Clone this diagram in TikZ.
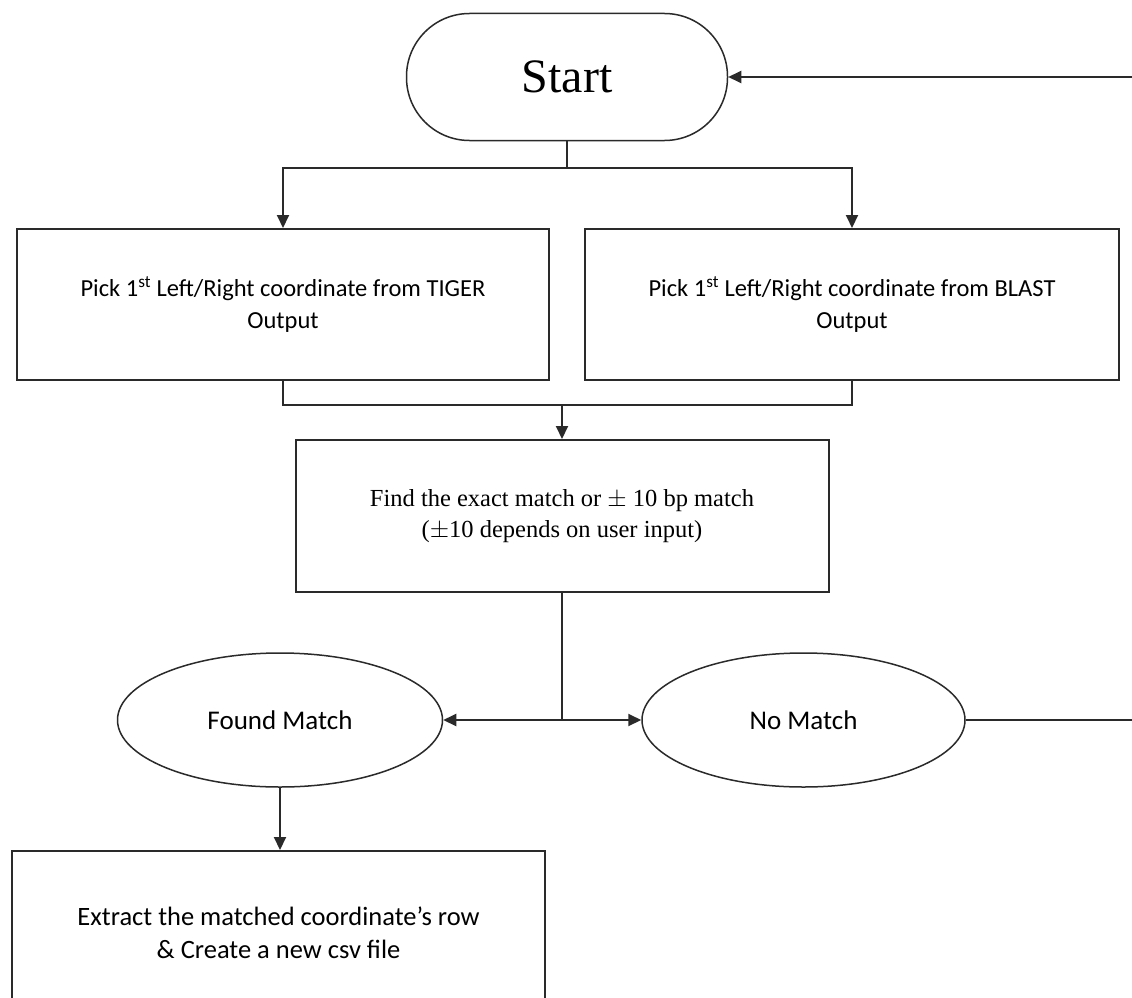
\documentclass[tikz,border=0pt]{standalone}
\usepackage{fontspec}
\setmainfont{Liberation Serif}
\newfontfamily\carl{Carlito}
\usetikzlibrary{arrows.meta,shapes.geometric}
\definecolor{ln}{HTML}{2A2A2A}
\begin{document}
\begin{tikzpicture}[x=1pt,y=-1pt,
  conn/.style={draw=ln, line width=2pt},
  boxstyle/.style={draw=ln, fill=white, inner sep=0pt, align=center, line width=2pt},
  sbox/.style={boxstyle, rectangle, font=\carl\fontsize{24.5}{32}\selectfont},
  ebox/.style={boxstyle, ellipse, line width=1.5pt, font=\carl\fontsize{27}{30}\selectfont},
  arr/.style={conn, -{Triangle[length=13pt,width=12pt]}}]
\useasboundingbox (0,0) rectangle (1132,998);
\fill[white] (0,0) rectangle (1132,998);

\node[boxstyle, rectangle, rounded corners=63pt, line width=1.5pt, minimum width=321pt, minimum height=127pt,
      font=\fontsize{48}{54}\selectfont] (start) at (567,77) {Start};

\node[sbox, minimum width=532pt, minimum height=151pt] (tiger) at (283,304.5)
  {Pick 1\textsuperscript{st} Left/Right coordinate from TIGER\\Output};
\node[sbox, minimum width=534pt, minimum height=151pt] (blast) at (852,304.5)
  {Pick 1\textsuperscript{st} Left/Right coordinate from BLAST\\Output};

\node[boxstyle, rectangle, minimum width=533pt, minimum height=152pt,
      font=\fontsize{24.5}{31}\selectfont] (find) at (562,516)
  {Find the exact match or $\pm$ 10 bp match\\($\pm$10 depends on user input)};

\node[ebox, minimum width=325pt, minimum height=134pt] (found) at (280,720) {Found Match};
\node[ebox, minimum width=323pt, minimum height=134pt] (nomatch) at (803.5,720) {No Match};

\node[sbox, minimum width=533pt, minimum height=164pt, font=\carl\fontsize{26.5}{33}\selectfont]
  (extract) at (278.5,933) {Extract the matched coordinate’s row\\\& Create a new csv file};

\coordinate (j1) at (567,168);
\coordinate (j2) at (562,405);
\coordinate (j3) at (562,720);
\coordinate (r1) at (1138,720);
\coordinate (r2) at (1138,77);

\draw[conn] (start.south) -- (j1);
\draw[arr] (j1) -| (tiger.north);
\draw[arr] (j1) -| (blast.north);
\draw[conn] (tiger.south) |- (j2) -| (blast.south);
\draw[arr] (j2) -- (find.north);
\draw[conn] (find.south) -- (j3);
\draw[arr] (j3) -- (found.east);
\draw[arr] (j3) -- (nomatch.west);
\draw[arr] (nomatch.east) -- (r1) -- (r2) -- (start.east);
\draw[arr] (found.south) -- (found.south |- extract.north);
\end{tikzpicture}
\end{document}
